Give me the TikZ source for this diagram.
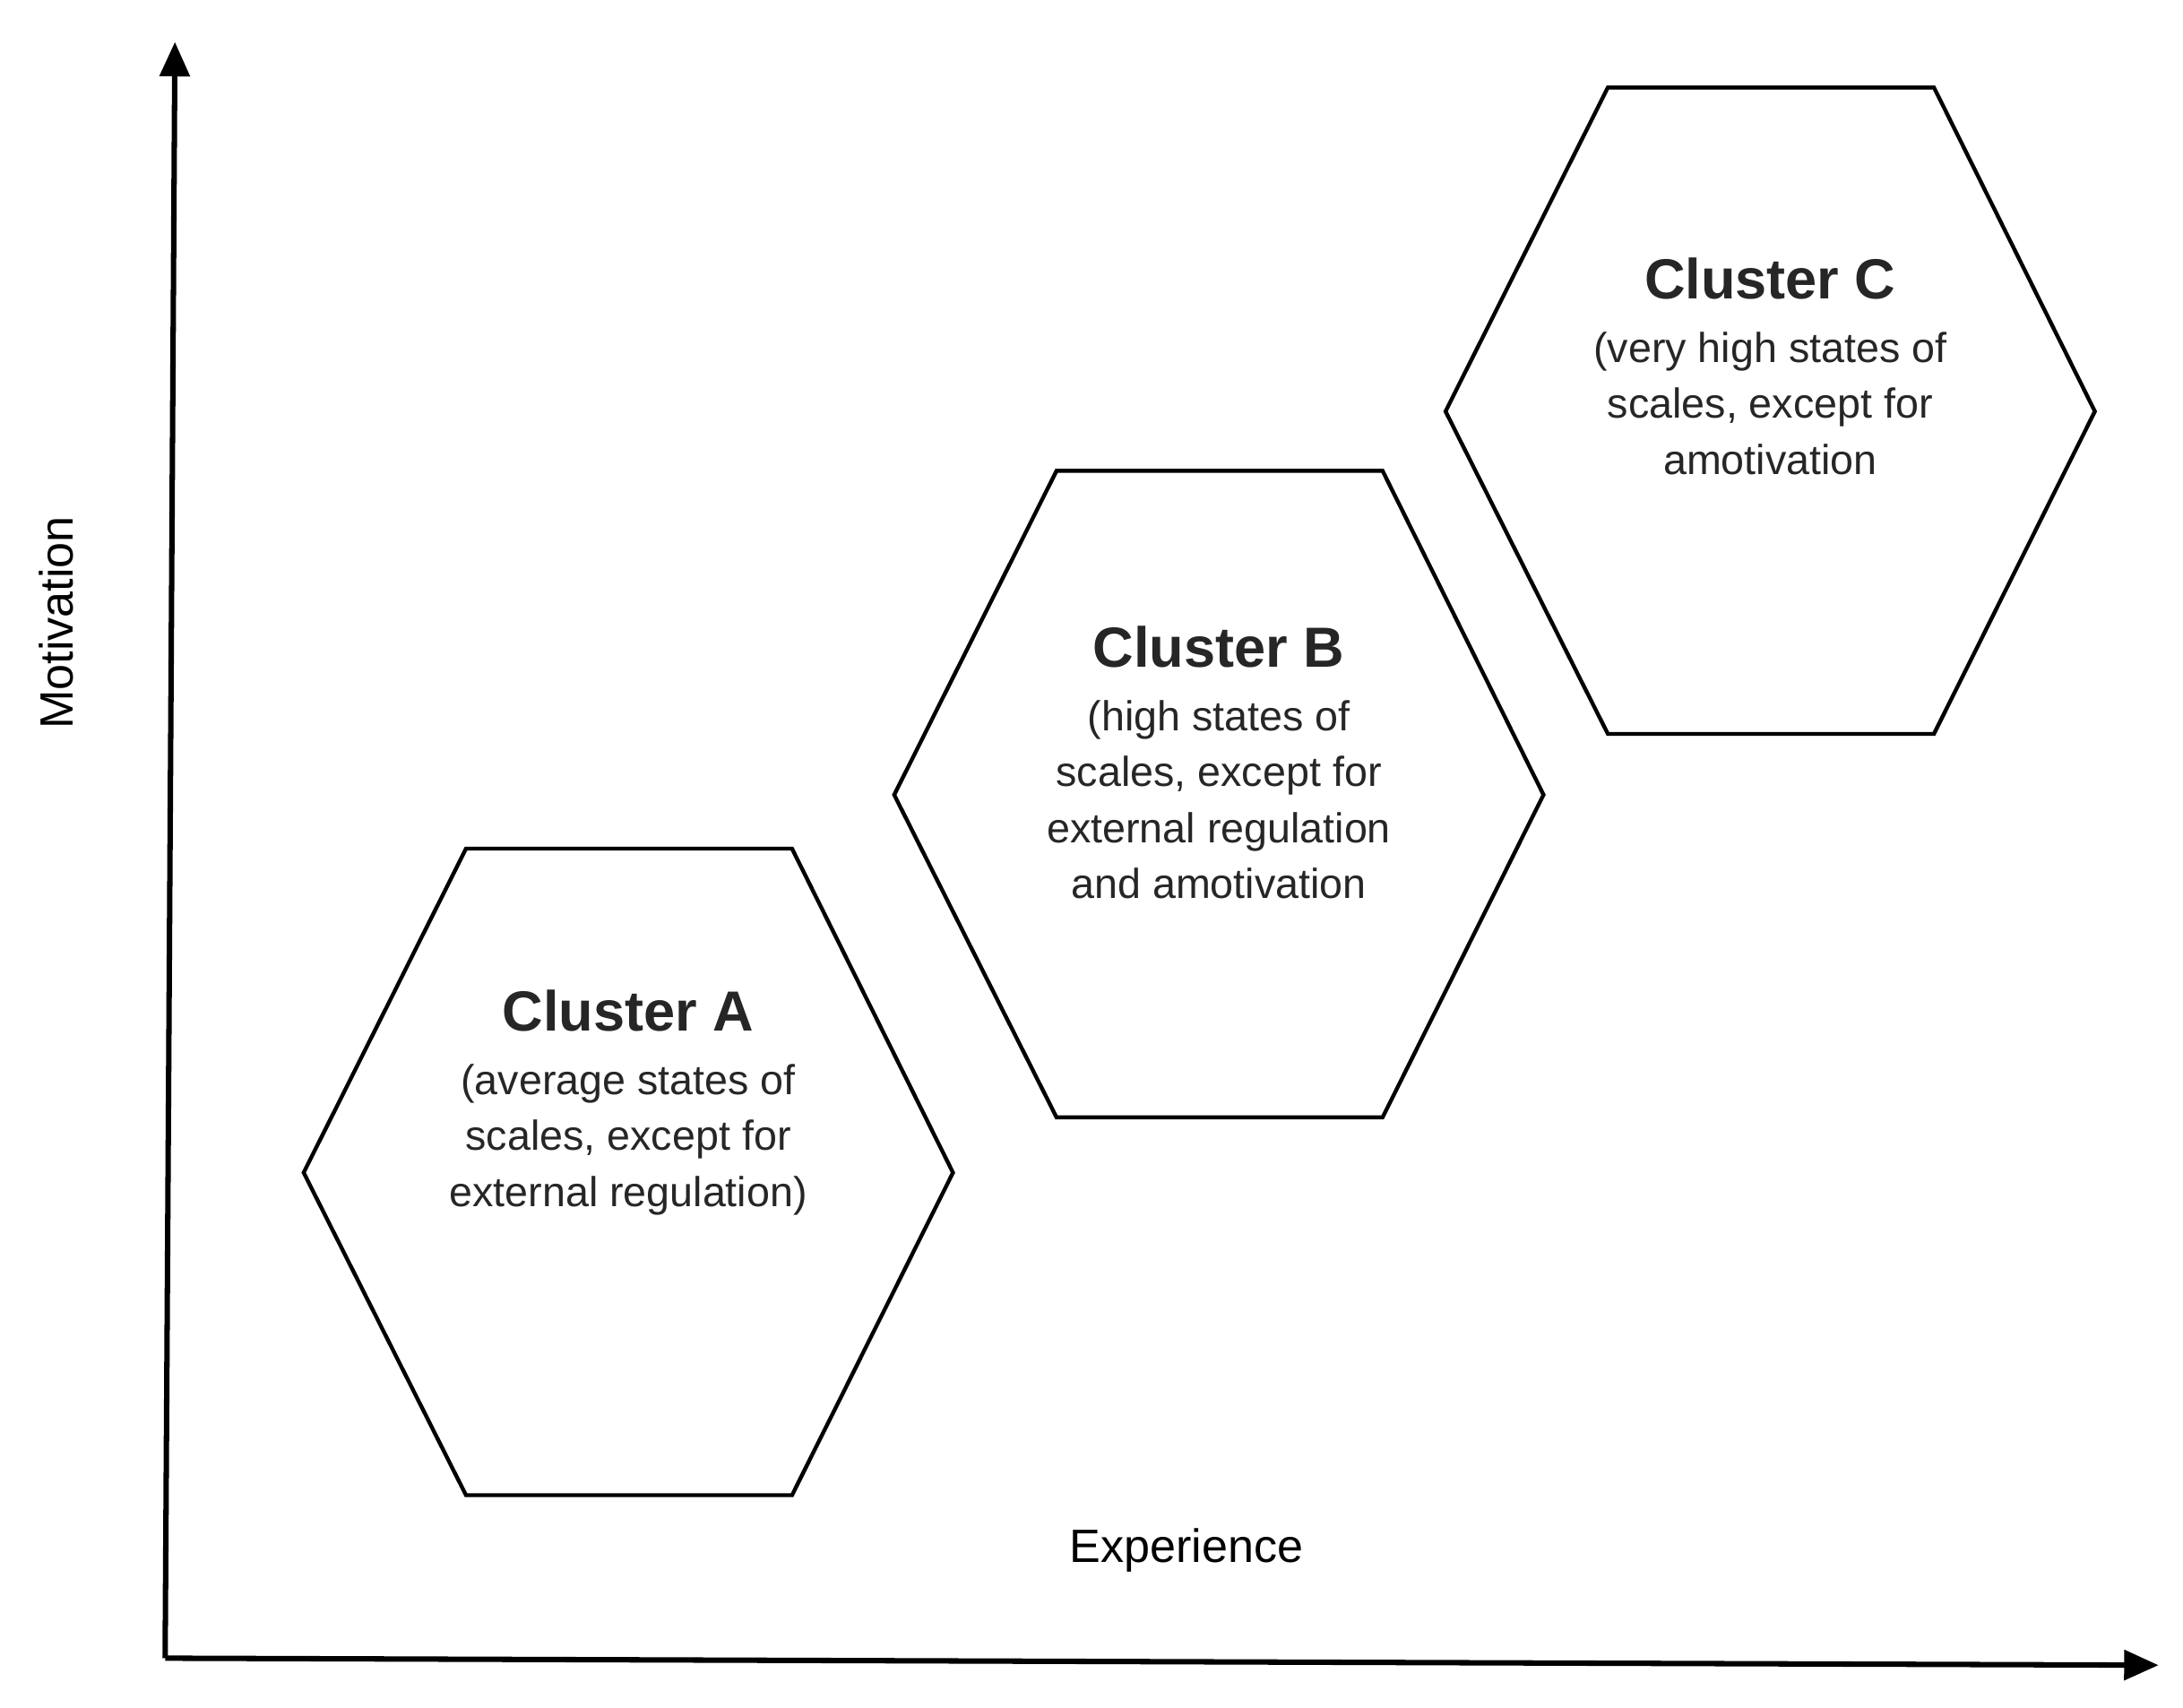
\documentclass[tikz,border=0pt]{standalone}
\usepackage{fontspec}
\setmainfont{Liberation Sans}
\usetikzlibrary{arrows.meta}

\newcommand{\hexcluster}[4]{%
  \draw[hexline] ($(#1)+(-4.64,0)$) -- ++(2.32,4.63) -- ++(4.66,0) -- ++(2.3,-4.63)
    -- ++(-2.3,-4.61) -- ++(-4.66,0) -- cycle;
  \node (#2) at ($(#1)+(0,#3)$) [anchor=north, cluster] {#4};
}
\usetikzlibrary{calc}

\begin{document}
\begin{tikzpicture}[
  hexline/.style={line width=1.6pt, line join=miter},
  axis/.style={line width=2.2pt, -{Triangle[length=14pt,width=12pt]}},
  cluster/.style={align=center, font=\fontsize{17}{22.8}\selectfont, text=black!85, inner sep=0pt},
  axislabel/.style={font=\fontsize{19}{22}\selectfont}
]
  \useasboundingbox (0,0) rectangle (31.2,24.4);
  % axes
  \coordinate (origin) at (2.36,0.7);
  \coordinate (ytip) at (2.5,23.8);
  \coordinate (xtip) at (30.85,0.6);
  \draw[axis] (origin) -- (ytip);
  \draw[axis] (origin) -- (xtip);
  \node (motiv) at (0.8,15.5) [axislabel, rotate=90] {Motivation};
  \node (exper) at (16.96,2.24) [axislabel] {Experience};
  % clusters
  \coordinate (ca) at (8.98,7.64);
  \coordinate (cb) at (17.42,13.04);
  \coordinate (cc) at (25.3,18.52);
  \hexcluster{ca}{texta}{2.62}{{\fontsize{23}{28}\selectfont\bfseries Cluster A}\\[3pt](average states of\\scales, except for\\external regulation)}
  \hexcluster{cb}{textb}{2.42}{{\fontsize{23}{28}\selectfont\bfseries Cluster B}\\[3pt](high states of\\scales, except for\\external regulation\\and amotivation}
  \hexcluster{cc}{textc}{2.2}{{\fontsize{23}{28}\selectfont\bfseries Cluster C}\\[3pt](very high states of\\scales, except for\\amotivation}
\end{tikzpicture}
\end{document}
